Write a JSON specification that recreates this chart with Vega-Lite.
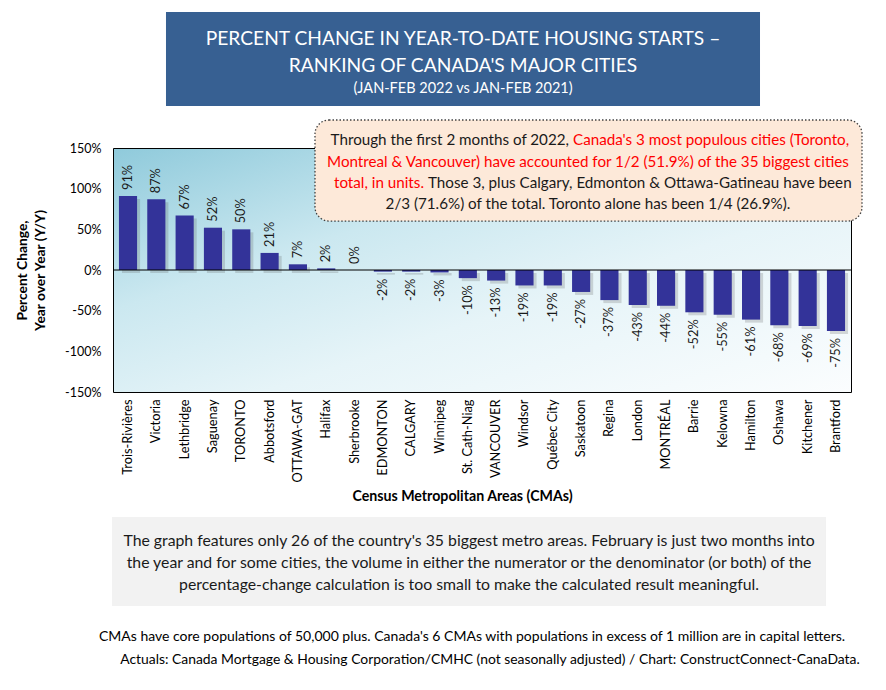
{
  "$schema": "https://vega.github.io/schema/vega-lite/v6.json",
  "width": 738,
  "height": 244,
  "autosize": {"type": "none"},
  "padding": {"left": 113, "top": 148, "right": 35, "bottom": 298},
  "background": "white",
  "config": {
    "font": "Lato",
    "locale": {"number": {"decimal": ".", "thousands": ",", "grouping": [3], "currency": ["$", ""], "minus": "-"}},
    "view": {
      "stroke": "black",
      "strokeWidth": 1,
      "fill": {"gradient": "linear", "x1": 0, "y1": 0, "x2": 1, "y2": 1,
        "stops": [{"offset": 0, "color": "#8FCADB"}, {"offset": 0.33, "color": "#CBE8F0"}, {"offset": 0.6, "color": "#E6F4F8"}, {"offset": 1, "color": "#FBFDFE"}]}
    }
  },
  "datasets": {
    "cities": [
      {"city": "Trois-Rivières", "v": 0.91},
      {"city": "Victoria", "v": 0.87},
      {"city": "Lethbridge", "v": 0.67},
      {"city": "Saguenay", "v": 0.52},
      {"city": "TORONTO", "v": 0.50},
      {"city": "Abbotsford", "v": 0.21},
      {"city": "OTTAWA-GAT", "v": 0.07},
      {"city": "Halifax", "v": 0.02},
      {"city": "Sherbrooke", "v": 0.0},
      {"city": "EDMONTON", "v": -0.02},
      {"city": "CALGARY", "v": -0.02},
      {"city": "Winnipeg", "v": -0.03},
      {"city": "St. Cath-Niag", "v": -0.10},
      {"city": "VANCOUVER", "v": -0.13},
      {"city": "Windsor", "v": -0.19},
      {"city": "Québec City", "v": -0.19},
      {"city": "Saskatoon", "v": -0.27},
      {"city": "Regina", "v": -0.37},
      {"city": "London", "v": -0.43},
      {"city": "MONTRÉAL", "v": -0.44},
      {"city": "Barrie", "v": -0.52},
      {"city": "Kelowna", "v": -0.55},
      {"city": "Hamilton", "v": -0.61},
      {"city": "Oshawa", "v": -0.68},
      {"city": "Kitchener", "v": -0.69},
      {"city": "Brantford", "v": -0.75}
    ],
    "one": [{}]
  },
  "layer": [
    {
      "data": {"name": "cities"},
      "encoding": {
        "x": {"field": "city", "type": "nominal", "sort": null, "scale": {"paddingInner": 0.36, "paddingOuter": 0.21},
          "title": "Census Metropolitan Areas (CMAs)",
          "axis": {"labelAngle": 270, "labelFontSize": 12.8, "labelColor": "#000000", "labelPadding": 7, "ticks": false, "domain": false,
            "titleFontSize": 14.2, "titleFontWeight": "bold", "titleColor": "#000000", "titlePadding": 8, "titleX": 349, "titleAlign": "center"}},
        "y": {"field": "v", "type": "quantitative", "scale": {"domain": [-1.5, 1.5], "nice": false},
          "title": ["Percent Change,", "Year over Year (Y/Y)"],
          "axis": {"values": [-1.5, -1, -0.5, 0, 0.5, 1, 1.5], "format": ".0%", "labelFontSize": 12.5, "labelColor": "#000000", "labelPadding": 12,
            "ticks": false, "domain": false, "grid": false, "titleFontSize": 13.8, "titleFontWeight": "bold", "titleColor": "#000000", "titlePadding": 17, "titleLineHeight": 18}}
      },
      "layer": [
        {"mark": {"type": "bar", "color": "#555555", "opacity": 0.22, "xOffset": 3, "yOffset": 3}},
        {"mark": {"type": "bar", "color": "#333399"}},
        {
          "transform": [{"filter": "datum.v >= 0"}],
          "mark": {"type": "text", "angle": 270, "align": "left", "baseline": "middle", "dx": 6, "fontSize": 12.8, "color": "#1a1a1a"},
          "encoding": {"text": {"field": "v", "type": "quantitative", "format": ".0%"}}
        },
        {
          "transform": [{"filter": "datum.v < 0"}],
          "mark": {"type": "text", "angle": 270, "align": "right", "baseline": "middle", "dx": -7, "fontSize": 12.8, "color": "#1a1a1a"},
          "encoding": {"text": {"field": "v", "type": "quantitative", "format": ".0%"}}
        }
      ]
    },
    {
      "data": {"name": "one"},
      "layer": [
        {
          "mark": {"type": "rule", "color": "black", "strokeWidth": 1},
          "encoding": {"y": {"datum": 0, "type": "quantitative", "scale": {"domain": [-1.5, 1.5], "nice": false}}}
        },
        {
          "mark": {"type": "rect", "fill": "#7f7f7f", "opacity": 0.45, "xOffset": 3, "yOffset": 4},
          "encoding": {
            "x": {"datum": 0.0718, "type": "quantitative", "scale": {"domain": [0, 1], "zero": false, "nice": false}, "axis": null},
            "x2": {"datum": 0.8767},
            "y": {"datum": 3.172, "type": "quantitative"},
            "y2": {"datum": 2.016}
          }
        },
        {
          "mark": {"type": "rect", "fill": "#376092"},
          "encoding": {
            "x": {"datum": 0.0718, "type": "quantitative"},
            "x2": {"datum": 0.8767},
            "y": {"datum": 3.172, "type": "quantitative"},
            "y2": {"datum": 2.016}
          }
        },
        {
          "mark": {"type": "text", "color": "white", "fontSize": 19.2, "lineHeight": 27, "align": "center", "baseline": "middle"},
          "encoding": {
            "x": {"datum": 0.4743, "type": "quantitative"},
            "y": {"datum": 2.84, "type": "quantitative"},
            "text": {"value": ["PERCENT CHANGE IN YEAR-TO-DATE HOUSING STARTS –", "RANKING OF CANADA'S MAJOR CITIES"]}
          }
        },
        {
          "mark": {"type": "text", "color": "white", "fontSize": 14.5, "align": "center", "baseline": "middle"},
          "encoding": {
            "x": {"datum": 0.4743, "type": "quantitative"},
            "y": {"datum": 2.225, "type": "quantitative"},
            "text": {"value": "(JAN-FEB 2022 vs JAN-FEB 2021)"}
          }
        },
        {
          "mark": {"type": "rect", "fill": "#FDE9D9", "stroke": "#404040", "strokeWidth": 1.3, "strokeDash": [1.5, 2], "cornerRadius": 14},
          "encoding": {
            "x": {"datum": 0.2737, "type": "quantitative"},
            "x2": {"datum": 1.0149},
            "y": {"datum": 1.844, "type": "quantitative"},
            "y2": {"datum": 0.602}
          }
        },
        {
          "mark": {"type": "text", "color": "#1a1a1a", "fontSize": 15.2, "align": "right", "baseline": "middle", "dx": -2},
          "encoding": {
            "x": {"datum": 0.6206, "type": "quantitative"},
            "y": {"datum": 1.598, "type": "quantitative"},
            "text": {"value": "Through the first 2 months of 2022,"}
          }
        },
        {
          "mark": {"type": "text", "color": "#FF0000", "fontSize": 15.2, "align": "left", "baseline": "middle", "dx": 2},
          "encoding": {
            "x": {"datum": 0.6206, "type": "quantitative"},
            "y": {"datum": 1.598, "type": "quantitative"},
            "text": {"value": "Canada's 3 most populous cities (Toronto,"}
          }
        },
        {
          "mark": {"type": "text", "color": "#FF0000", "fontSize": 15.2, "align": "center", "baseline": "middle"},
          "encoding": {
            "x": {"datum": 0.6436, "type": "quantitative"},
            "y": {"datum": 1.328, "type": "quantitative"},
            "text": {"value": "Montreal & Vancouver) have accounted for 1/2 (51.9%) of the 35 biggest cities"}
          }
        },
        {
          "mark": {"type": "text", "color": "#FF0000", "fontSize": 15.2, "align": "right", "baseline": "middle", "dx": -2},
          "encoding": {
            "x": {"datum": 0.4241, "type": "quantitative"},
            "y": {"datum": 1.07, "type": "quantitative"},
            "text": {"value": "total, in units."}
          }
        },
        {
          "mark": {"type": "text", "color": "#1a1a1a", "fontSize": 15.2, "align": "left", "baseline": "middle", "dx": 2},
          "encoding": {
            "x": {"datum": 0.4241, "type": "quantitative"},
            "y": {"datum": 1.07, "type": "quantitative"},
            "text": {"value": "Those 3, plus Calgary, Edmonton & Ottawa-Gatineau have been"}
          }
        },
        {
          "mark": {"type": "text", "color": "#1a1a1a", "fontSize": 15.2, "align": "center", "baseline": "middle"},
          "encoding": {
            "x": {"datum": 0.6436, "type": "quantitative"},
            "y": {"datum": 0.811, "type": "quantitative"},
            "text": {"value": "2/3 (71.6%) of the total. Toronto alone has been 1/4 (26.9%)."}
          }
        },
        {
          "mark": {"type": "rect", "fill": "#7f7f7f", "opacity": 0.4, "xOffset": 3, "yOffset": 4},
          "encoding": {
            "x": {"datum": -0.0014, "type": "quantitative"},
            "x2": {"datum": 0.9661},
            "y": {"datum": -3.037, "type": "quantitative"},
            "y2": {"datum": -4.131}
          }
        },
        {
          "mark": {"type": "rect", "fill": "#F2F2F2"},
          "encoding": {
            "x": {"datum": -0.0014, "type": "quantitative"},
            "x2": {"datum": 0.9661},
            "y": {"datum": -3.037, "type": "quantitative"},
            "y2": {"datum": -4.131}
          }
        },
        {
          "mark": {"type": "text", "color": "#1a1a1a", "fontSize": 15.8, "lineHeight": 22, "align": "center", "baseline": "middle"},
          "encoding": {
            "x": {"datum": 0.4824, "type": "quantitative"},
            "y": {"datum": -3.332, "type": "quantitative"},
            "text": {"value": ["The graph features only 26 of the country's 35 biggest metro areas. February is just two months into", "the year and for some cities, the volume in either the numerator or the denominator (or both)  of the", "percentage-change calculation is too small to make the calculated result meaningful."]}
          }
        },
        {
          "mark": {"type": "text", "color": "#000000", "fontSize": 14, "align": "center", "baseline": "middle"},
          "encoding": {
            "x": {"datum": 0.4865, "type": "quantitative"},
            "y": {"datum": -4.512, "type": "quantitative"},
            "text": {"value": "CMAs have core populations of 50,000 plus. Canada's 6 CMAs with populations in excess of 1 million are in capital letters."}
          }
        },
        {
          "mark": {"type": "text", "color": "#000000", "fontSize": 13.9, "align": "center", "baseline": "middle"},
          "encoding": {
            "x": {"datum": 0.5108, "type": "quantitative"},
            "y": {"datum": -4.795, "type": "quantitative"},
            "text": {"value": "Actuals: Canada Mortgage & Housing Corporation/CMHC (not seasonally adjusted) / Chart: ConstructConnect-CanaData."}
          }
        }
      ]
    }
  ],
  "resolve": {"scale": {"x": "independent"}}
}
